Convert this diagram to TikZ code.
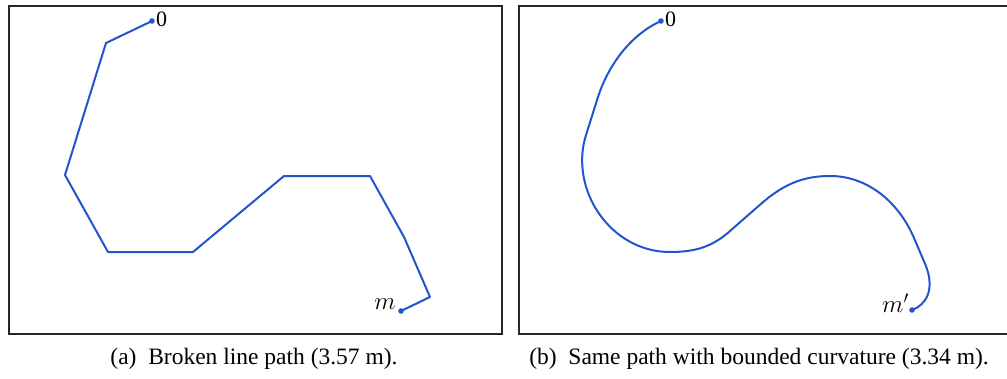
\documentclass[tikz,border=0pt]{standalone}
\usepackage{fontspec}
\setmainfont{Liberation Serif}
\begin{document}
\begin{tikzpicture}[x=1pt,y=-1pt,
  frame/.style={draw=black!85,line width=2.2pt},
  route/.style={draw={rgb,255:red,34;green,85;blue,204},line width=2pt,line join=round},
  enddot/.style={fill={rgb,255:red,34;green,85;blue,204},draw=none},
  lbl/.style={font=\fontsize{22}{24}\selectfont,inner sep=0pt},
  mlbl/.style={font=\fontsize{24}{26}\selectfont,inner sep=0pt},
  captext/.style={font=\fontsize{23.5}{26}\selectfont,inner sep=0pt}]
\useasboundingbox (0,0) rectangle (1007,378);
% frames
\draw[frame] (9,6) rectangle (502,334);
\draw[frame] (519,6) rectangle (1012,334);
% left broken path
\coordinate (a0) at (152,21);
\coordinate (a1) at (106,43);
\coordinate (a2) at (65,175);
\coordinate (a3) at (108,252);
\coordinate (a4) at (193,252);
\coordinate (a5) at (284,176);
\coordinate (a6) at (370,176);
\coordinate (a7) at (404,237);
\coordinate (a8) at (430,297);
\coordinate (am) at (401,311);
\draw[route] (a0) -- (a1) -- (a2) -- (a3) -- (a4) -- (a5) -- (a6) -- (a7) -- (a8) -- (am);
\fill[enddot] (a0) circle (2.8);
\fill[enddot] (am) circle (2.8);
\node[lbl,anchor=west] (za) at (156,19) {0};
\node[mlbl,anchor=east] (ma) at (396,304) {$m$};
% right smooth path
\coordinate (b0) at (661,21);
\coordinate (b1) at (598,97);
\coordinate (b2) at (586,135);
\coordinate (b3) at (670,252);
\coordinate (b4) at (730,231);
\coordinate (b5) at (762,203);
\coordinate (b6) at (830,176);
\coordinate (b7) at (914,238);
\coordinate (b8) at (926,266);
\coordinate (bm) at (912,310);
\draw[route] (b0) .. controls (630,35) and (608,66) .. (b1) -- (b2)
  .. controls (569,189) and (610,252) .. (b3)
  .. controls (695,252) and (712,247) .. (b4) -- (b5)
  .. controls (785,183) and (805,176) .. (b6)
  .. controls (870,176) and (900,205) .. (b7) -- (b8)
  .. controls (935,290) and (926,305) .. (bm);
\fill[enddot] (b0) circle (2.8);
\fill[enddot] (bm) circle (2.8);
\node[lbl,anchor=west] (zb) at (665,19) {0};
\node[mlbl,anchor=east] (mb) at (909,303) {$m'$};
% captions
\node[captext] (capa) at (254,359) {(a)\hspace{0.5em}Broken line path (3.57 m).};
\node[captext] (capb) at (759,359) {(b)\hspace{0.5em}Same path with bounded curvature (3.34 m).};
\end{tikzpicture}
\end{document}
